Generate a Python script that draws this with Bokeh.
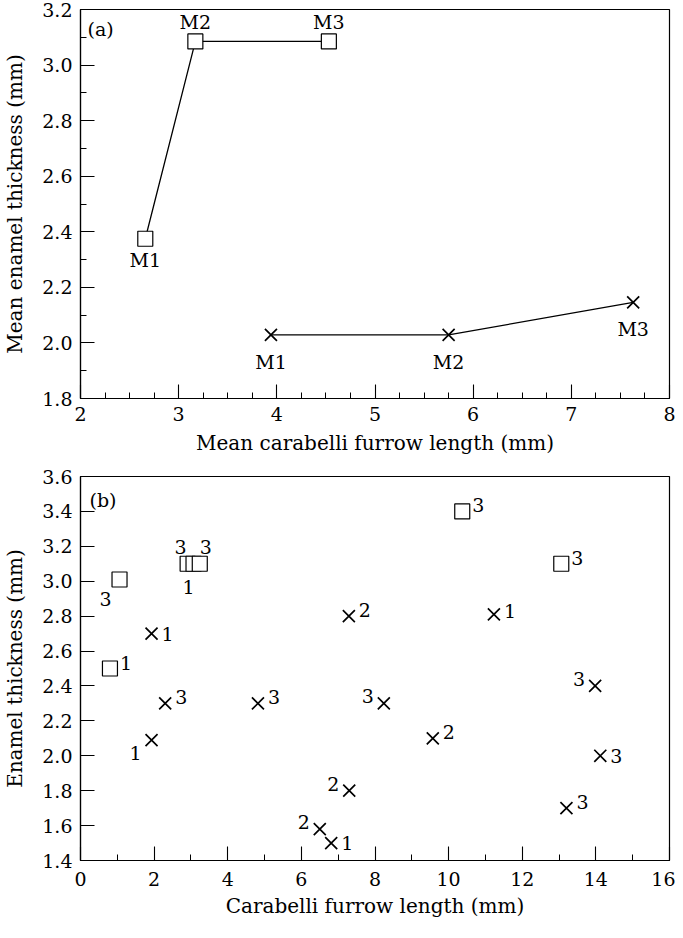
from bokeh.plotting import figure
from bokeh.layouts import column
from bokeh.models import SingleIntervalTicker, NumeralTickFormatter, ColumnDataSource, Label, Range1d
from bokeh.embed import file_html
from bokeh.resources import INLINE
from bokeh.core.properties import value

# ---------------- data: panel (a) ----------------
a_sq_x = [2.66, 3.17, 4.53]
a_sq_y = [2.375, 3.085, 3.085]
a_sq_lab = ["M1", "M2", "M3"]
a_sq_pos = ["below", "above", "above"]

a_cr_x = [3.94, 5.75, 7.63]
a_cr_y = [2.029, 2.029, 2.146]
a_cr_lab = ["M1", "M2", "M3"]
a_cr_pos = ["belowx", "belowx", "belowx"]

# ---------------- data: panel (b) ----------------
b_sq_x = [1.06, 2.91, 3.07, 3.24, 10.37, 13.06, 0.80]
b_sq_y = [3.01, 3.10, 3.10, 3.10, 3.40, 3.10, 2.50]
b_sq_lab = ["3", "3", "1", "3", "3", "3", "1"]
b_sq_pos = ["ll2", "al", "bl", "ar", "ur", "ur", "ur"]

b_cr_x = [1.93, 7.29, 11.23, 2.30, 4.82, 8.24, 13.98, 1.93, 9.57, 14.12, 7.30, 13.20, 6.50, 6.81]
b_cr_y = [2.70, 2.80, 2.81, 2.30, 2.30, 2.30, 2.40, 2.09, 2.10, 2.00, 1.80, 1.70, 1.58, 1.50]
b_cr_lab = ["1", "2", "1", "3", "3", "3", "3", "1", "2", "3", "2", "3", "2", "1"]
b_cr_pos = ["r", "ur", "ur1", "ur", "ur", "ul", "ul", "ll", "ur", "r", "ul", "ur", "ul", "r"]

FONT = "DejaVu Serif"
FS = "19px"
FS_AX = "20px"

# label anchor codes -> (x_offset, y_offset, align, baseline)
ANCHORS = {
    "below": (0, 21, "center", "middle"),
    "above": (0, -19, "center", "middle"),
    "belowx": (0, 27, "center", "middle"),
    "ur": (10, -6, "left", "middle"),
    "ur1": (10, -3, "left", "middle"),
    "r": (10, 0, "left", "middle"),
    "ul": (-10, -7, "right", "middle"),
    "ll": (-10, 13, "right", "middle"),
    "ll2": (-8, 20, "right", "middle"),
    "al": (-7, -17, "center", "middle"),
    "ar": (6, -17, "center", "middle"),
    "bl": (-5, 23, "center", "middle"),
}


def add_labels(p, xs, ys, labs, poss):
    for code, (dx, dy, al, bl) in ANCHORS.items():
        idx = [i for i, c in enumerate(poss) if c == code]
        if not idx:
            continue
        src = ColumnDataSource(dict(x=[xs[i] for i in idx], y=[ys[i] for i in idx],
                                    t=[labs[i] for i in idx]))
        p.text(x="x", y="y", text="t", source=src, x_offset=dx, y_offset=dy,
               text_align=al, text_baseline=bl, text_font=value(FONT),
               text_font_size=FS, text_color="black")


def style(p, xint, xminor, yint, yminor, xlabel, ylabel, xtick_stand, xstand):
    p.xaxis.ticker = SingleIntervalTicker(interval=xint, num_minor_ticks=xminor)
    p.yaxis.ticker = SingleIntervalTicker(interval=yint, num_minor_ticks=yminor)
    p.yaxis.formatter = NumeralTickFormatter(format="0.0")
    p.xgrid.grid_line_color = None
    p.ygrid.grid_line_color = None
    p.outline_line_color = "black"
    p.outline_line_width = 1.2
    p.outline_line_alpha = 1.0
    for ax in (p.xaxis[0], p.yaxis[0]):
        ax.major_tick_in = 14
        ax.major_tick_out = 0
        ax.minor_tick_in = 6
        ax.minor_tick_out = 0
        ax.axis_line_color = "black"
        ax.axis_line_width = 1.2
        ax.major_tick_line_color = "black"
        ax.major_tick_line_width = 1.1
        ax.minor_tick_line_color = "black"
        ax.minor_tick_line_width = 1.0
        ax.major_label_text_font = FONT
        ax.major_label_text_font_size = FS
        ax.major_label_text_color = "black"
        ax.axis_label_text_font = FONT
        ax.axis_label_text_font_size = FS_AX
        ax.axis_label_text_font_style = "normal"
        ax.axis_label_text_color = "black"
    p.yaxis.major_label_standoff = 8
    p.xaxis.major_label_standoff = xtick_stand
    p.xaxis.axis_label = xlabel
    p.yaxis.axis_label = ylabel
    p.xaxis.axis_label_standoff = xstand
    p.yaxis.axis_label_standoff = 12
    if yminor == 0:
        p.yaxis.minor_tick_line_color = None


# ---------------- figure (a) ----------------
p1 = figure(width=675, height=462, output_backend="svg", toolbar_location=None,
            x_range=Range1d(2, 8), y_range=Range1d(1.8, 3.2),
            min_border_left=80, min_border_right=6, min_border_top=9, min_border_bottom=64)
style(p1, 1, 4, 0.2, 2, "Mean carabelli furrow length (mm)", "Mean enamel thickness (mm)", 8, 7)
p1.line(a_sq_x, a_sq_y, line_color="black", line_width=1.3)
p1.line(a_cr_x, a_cr_y, line_color="black", line_width=1.3)
p1.scatter(a_sq_x, a_sq_y, marker="square", size=15, fill_color="white",
           line_color="black", line_width=1.2)
p1.scatter(a_cr_x, a_cr_y, marker="x", size=17, line_color="black", line_width=1.7)
add_labels(p1, a_sq_x, a_sq_y, a_sq_lab, a_sq_pos)
add_labels(p1, a_cr_x, a_cr_y, a_cr_lab, a_cr_pos)
p1.add_layout(Label(x=7, y=381, x_units="screen", y_units="screen", text="(a)",
                    text_font=FONT, text_font_size=FS, text_baseline="top",
                    text_color="black"))

# ---------------- figure (b) ----------------
p2 = figure(width=675, height=460, output_backend="svg", toolbar_location=None,
            x_range=Range1d(0, 16), y_range=Range1d(1.4, 3.6),
            min_border_left=80, min_border_right=6, min_border_top=14, min_border_bottom=62)
style(p2, 2, 2, 0.2, 0, "Carabelli furrow length (mm)", "Enamel thickness (mm)", 11, 5)
p2.scatter(b_sq_x, b_sq_y, marker="square", size=15, fill_color="white",
           line_color="black", line_width=1.2)
p2.scatter(b_cr_x, b_cr_y, marker="x", size=17, line_color="black", line_width=1.7)
add_labels(p2, b_sq_x, b_sq_y, b_sq_lab, b_sq_pos)
add_labels(p2, b_cr_x, b_cr_y, b_cr_lab, b_cr_pos)
p2.add_layout(Label(x=9, y=372, x_units="screen", y_units="screen", text="(b)",
                    text_font=FONT, text_font_size=FS, text_baseline="top",
                    text_color="black"))

layout = column(p1, p2, spacing=0)
open("out.html", "w").write(file_html(layout, INLINE))
